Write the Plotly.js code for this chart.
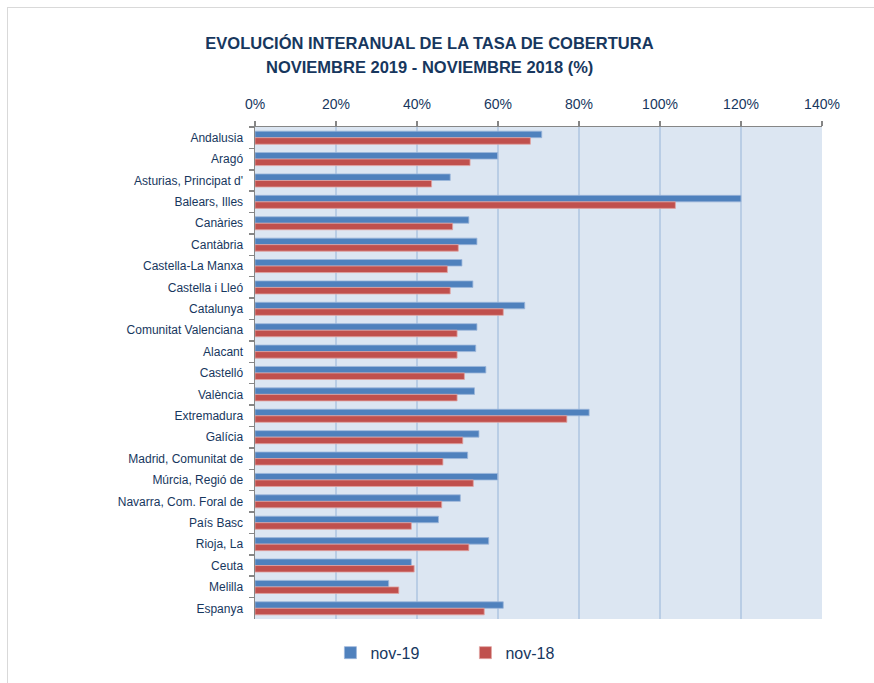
<!DOCTYPE html>
<html>
<head>
<meta charset="utf-8">
<script src="https://cdn.plot.ly/plotly-3.0.1.min.js"></script>
<style>
  html, body { margin: 0; padding: 0; background: #fff; }
  #frame { position: absolute; left: 7px; top: 7px; width: 880px; height: 700px;
           border-left: 1px solid #d9d9d9; border-top: 1px solid #d9d9d9; pointer-events: none; }
  #chart { position: absolute; left: 0; top: 0; width: 874px; height: 683px; }
</style>
</head>
<body>
<div id="chart"></div>
<div id="frame"></div>
<script>
const categories = ["Andalusia", "Aragó", "Asturias, Principat d'", "Balears, Illes", "Canàries",
  "Cantàbria", "Castella-La Manxa", "Castella i Lleó", "Catalunya", "Comunitat Valenciana",
  "Alacant", "Castelló", "València", "Extremadura", "Galícia", "Madrid, Comunitat de",
  "Múrcia, Regió de", "Navarra, Com. Foral de", "País Basc", "Rioja, La", "Ceuta", "Melilla", "Espanya"];
const nov19 = [70.8, 59.9, 48.2, 120.0, 52.8, 54.8, 51.1, 53.8, 66.6, 54.8, 54.5, 57.0, 54.2,
  82.5, 55.3, 52.5, 59.9, 50.7, 45.3, 57.7, 38.6, 33.0, 61.3];
const nov18 = [68.0, 53.1, 43.6, 103.8, 48.8, 50.2, 47.5, 48.2, 61.3, 49.9, 49.9, 51.7, 49.9,
  77.0, 51.3, 46.4, 53.9, 46.1, 38.6, 52.8, 39.3, 35.5, 56.6];
const xTicks = [0, 20, 40, 60, 80, 100, 120, 140];
const xTickLabels = ["0%", "20%", "40%", "60%", "80%", "100%", "120%", "140%"];
const seriesNames = ["nov-19", "nov-18"];
const titleLine1 = "EVOLUCIÓN INTERANUAL DE LA TASA DE COBERTURA";
const titleLine2 = "NOVIEMBRE 2019 - NOVIEMBRE 2018 (%)";

const navy = "#17375E";
const titleFont = { family: "Liberation Sans, Arial, sans-serif", size: 16.5, color: navy, weight: "bold" };
const traces = [
  { type: "bar", orientation: "h", name: seriesNames[0], y: categories, x: nov19,
    marker: { color: "#4F81BD", line: { color: "#9CB6DA", width: 0.8 } }, hoverinfo: "x+y" },
  { type: "bar", orientation: "h", name: seriesNames[1], y: categories, x: nov18,
    marker: { color: "#C0504D", line: { color: "#E1A3A1", width: 0.8 } }, hoverinfo: "x+y" }
];

const layout = {
  width: 874, height: 683,
  margin: { l: 254.5, r: 51.5, t: 127, b: 64 },
  paper_bgcolor: "#ffffff",
  plot_bgcolor: "#DCE6F2",
  barmode: "group",
  bargap: 0.39,
  bargroupgap: 0,
  title: {
    text: titleLine1,
    font: titleFont,
    x: 0.4914, xref: "container", xanchor: "center",
    y: 1 - 43 / 683, yref: "container", yanchor: "middle"
  },
  annotations: [{
    text: titleLine2, font: titleFont, showarrow: false,
    xref: "paper", x: (429.5 - 254.5) / 568, xanchor: "center",
    yref: "paper", y: (619 - 67) / 492, yanchor: "middle"
  }],
  xaxis: {
    side: "top", range: [0, 140], tickvals: xTicks, ticktext: xTickLabels,
    showgrid: true, gridcolor: "#B9CDE5", gridwidth: 1.5,
    showline: true, linecolor: "#868686", linewidth: 1.5,
    ticks: "outside", ticklen: 5, tickcolor: "#868686", tickwidth: 1.5,
    ticklabelstandoff: 6,
    tickfont: { family: "Liberation Sans, Arial, sans-serif", size: 14, color: navy },
    zeroline: false, fixedrange: true
  },
  yaxis: {
    type: "category", autorange: "reversed", tickson: "boundaries",
    showgrid: false, showline: true, linecolor: "#868686", linewidth: 1.5,
    ticks: "outside", ticklen: 5, tickcolor: "#868686", tickwidth: 1.5,
    ticklabelstandoff: 8,
    tickfont: { family: "Liberation Sans, Arial, sans-serif", size: 12, color: navy },
    fixedrange: true
  },
  showlegend: true,
  legend: {
    orientation: "h", x: 0.133, xanchor: "left", y: -0.034, yanchor: "top",
    entrywidth: 90, entrywidthmode: "pixels",
    font: { family: "Liberation Sans, Arial, sans-serif", size: 16, color: navy },
    bgcolor: "rgba(0,0,0,0)", itemwidth: 30, traceorder: "normal"
  },
  font: { family: "Liberation Sans, Arial, sans-serif", color: navy }
};

Plotly.newPlot("chart", traces, layout, { displayModeBar: false, staticPlot: true });
</script>
</body>
</html>
